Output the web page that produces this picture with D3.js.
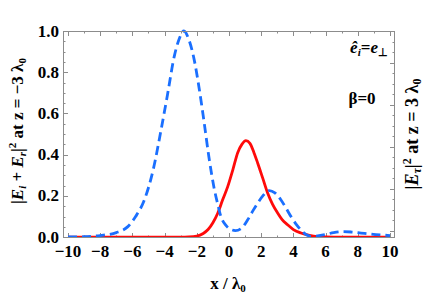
<!DOCTYPE html>
<html><head><meta charset="utf-8">
<script src="https://cdn.jsdelivr.net/npm/d3@7/dist/d3.min.js"></script>
<style>body{margin:0;background:#fff}svg{display:block}</style>
</head><body><svg id="c" width="429" height="298"></svg>
<script>
const blueX = [-10,-9,-8,-7,-6.3,-5.8,-5.26,-4.7,-4.22,-3.8,-3.4,-3.1,-2.8,-2.5,-2.16,-1.85,-1.55,-1.25,-0.93,-0.7,-0.5,-0.2,0.1,0.4,0.8,1.16,1.5,1.78,2.1,2.5,2.85,3.23,3.55,3.85,4.2,4.47,4.8,5.1,5.5,6,6.5,7.1,7.6,8.2,8.8,9.4,10];
const blueY = [0.001,0.002,0.008,0.022,0.05,0.1,0.18,0.33,0.52,0.7,0.877,0.96,1.0,0.96,0.86,0.72,0.56,0.39,0.24,0.16,0.1,0.058,0.038,0.032,0.045,0.084,0.13,0.165,0.2,0.226,0.215,0.18,0.14,0.1,0.06,0.035,0.012,0.004,0.006,0.013,0.022,0.027,0.025,0.02,0.015,0.011,0.008];
const redX = [-10,-6,-3,-2.5,-2,-1.6,-1.3,-1,-0.7,-0.4,-0.08,0.25,0.54,0.8,1.05,1.3,1.55,1.78,2.1,2.4,2.7,3.02,3.3,3.64,4,4.47,5,5.5,6,7,10];
const redY = [0,0,0,0.001,0.005,0.018,0.037,0.07,0.116,0.18,0.245,0.33,0.41,0.45,0.468,0.455,0.41,0.36,0.285,0.214,0.16,0.117,0.085,0.06,0.037,0.02,0.009,0.003,0.001,0,0];
const xTicks = [-10,-8,-6,-4,-2,0,2,4,6,8,10];
const yTicks = [0.0,0.2,0.4,0.6,0.8,1.0];

const svg = d3.select("#c");
const L=63,R=395,T=31,B=238;
const x = d3.scaleLinear().domain([-10.31,10.31]).range([L,R]);
const y = d3.scaleLinear().domain([-0.004,1.0]).range([B,T]);
const yR = d3.scaleLinear().domain([-0.035,0.951]).range([B,T]);
const font = "'Liberation Serif', 'Times New Roman', serif";
const frameC = "#8c8c8c";

const g = svg.append("g").attr("stroke",frameC).attr("stroke-width",1);
d3.range(-10,10.01,1).forEach(v=>{
  const major = Math.abs(v)%2===0;
  const len = major?5:2.5;
  const px = Math.round(x(v))+0.5;
  g.append("line").attr("x1",px).attr("x2",px).attr("y1",B).attr("y2",B-len);
  g.append("line").attr("x1",px).attr("x2",px).attr("y1",T).attr("y2",T+len);
});
d3.range(0,1.0001,0.05).forEach(v=>{
  const major = Math.abs(Math.round(v*100)%20)===0;
  const len = major?5:2.5;
  const py = Math.round(y(v))+0.5;
  g.append("line").attr("x1",L).attr("x2",L+len).attr("y1",py).attr("y2",py);
});
d3.range(0,0.9001,0.05).forEach(v=>{
  const major = Math.abs(Math.round(v*100)%20)===0;
  const len = major?5:2.5;
  const py = Math.round(yR(v))+0.5;
  g.append("line").attr("x1",R).attr("x2",R-len).attr("y1",py).attr("y2",py);
});

svg.append("clipPath").attr("id","clip").append("rect").attr("x",L).attr("y",T-3).attr("width",R-L).attr("height",B-T+3);
const line = d3.line().x(d=>x(d[0])).y(d=>y(d[1])).curve(d3.curveMonotoneX);
svg.append("path").datum(redX.map((v,i)=>[v,redY[i]])).attr("d",line)
  .attr("fill","none").attr("stroke","#ff0a0a").attr("stroke-width",2.8).attr("clip-path","url(#clip)");
svg.append("path").datum(blueX.map((v,i)=>[v,blueY[i]])).attr("d",line)
  .attr("fill","none").attr("stroke","#1a6fff").attr("stroke-width",2.8).attr("stroke-dasharray","9,5").attr("clip-path","url(#clip)");

svg.append("rect").attr("x",L+0.5).attr("y",T+0.5).attr("width",R-L-1).attr("height",B-T-1)
  .attr("fill","none").attr("stroke",frameC).attr("stroke-width",1);

const fmtX = v => v<0 ? "\u2212"+Math.abs(v) : String(v);
svg.append("g").selectAll("text").data(xTicks).join("text")
  .attr("x",d=>x(d)).attr("y",B+19).attr("text-anchor","middle")
  .style("font-family",font).attr("font-weight","bold").attr("font-size",17).text(fmtX);
svg.append("g").selectAll("text").data(yTicks).join("text")
  .attr("x",L-4).attr("y",d=>y(d)+5.5).attr("text-anchor","end")
  .style("font-family",font).attr("font-weight","bold").attr("font-size",17).text(d=>d.toFixed(1));

const xt = svg.append("text").attr("x",228).attr("y",289).attr("text-anchor","middle")
  .style("font-family",font).attr("font-weight","bold").attr("font-size",17);
xt.append("tspan").text("x / \u03bb");
xt.append("tspan").attr("font-size",11).attr("dy",3).text("0");

const yl = svg.append("text").attr("transform","translate(23,131) rotate(-90)").attr("text-anchor","middle")
  .style("font-family",font).attr("font-weight","bold").attr("font-size",17);
yl.append("tspan").text("|");
yl.append("tspan").attr("font-style","italic").text("E");
yl.append("tspan").attr("font-style","italic").attr("font-size",11).attr("dy",3).text("i");
yl.append("tspan").attr("dy",-3).text(" + ");
yl.append("tspan").attr("font-style","italic").text("E");
yl.append("tspan").attr("font-style","italic").attr("font-size",11).attr("dy",3).text("r");
yl.append("tspan").attr("dy",-3).text("|");
yl.append("tspan").attr("font-size",11).attr("dy",-7).text("2");
yl.append("tspan").attr("dy",7).text(" at z = \u22123 \u03bb");
yl.append("tspan").attr("font-size",11).attr("dy",3).text("0");

const yr = svg.append("text").attr("transform","translate(418,134) rotate(-90)").attr("text-anchor","middle")
  .style("font-family",font).attr("font-weight","bold").attr("font-size",18);
yr.append("tspan").text("|");
yr.append("tspan").attr("font-style","italic").text("E");
yr.append("tspan").attr("font-style","italic").attr("font-size",12).attr("dy",3).text("\u03c4");
yr.append("tspan").attr("dy",-3).text("|");
yr.append("tspan").attr("font-size",12).attr("dy",-7).text("2");
yr.append("tspan").attr("dy",7).text(" at z = 3 \u03bb");
yr.append("tspan").attr("font-size",12).attr("dy",3).text("0");

const a1 = svg.append("text").attr("x",369).attr("y",53).attr("text-anchor","middle")
  .style("font-family",font).attr("font-weight","bold").attr("font-size",17);
a1.append("tspan").attr("font-style","italic").text("\u00ea");
a1.append("tspan").attr("font-style","italic").attr("font-size",11).attr("dy",3).text("i");
a1.append("tspan").attr("dy",-3).text("=");
a1.append("tspan").attr("font-style","italic").text("e");
a1.append("tspan").attr("font-size",11).attr("dy",3).text("\u22a5");

svg.append("text").attr("x",362).attr("y",104).attr("text-anchor","middle")
  .style("font-family",font).attr("font-weight","bold").attr("font-size",17).text("\u03b2=0");
</script></body></html>
